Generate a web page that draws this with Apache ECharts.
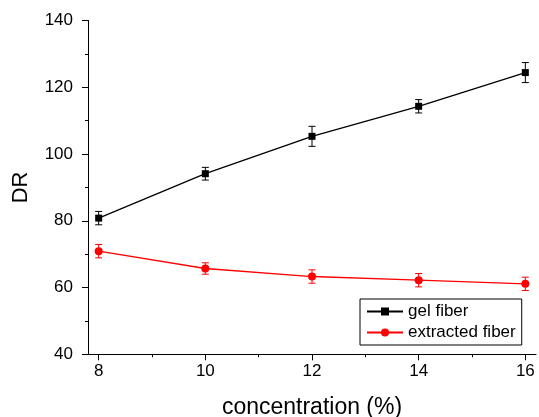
<!DOCTYPE html>
<html>
<head>
<meta charset="utf-8">
<script src="https://cdn.jsdelivr.net/npm/echarts@6/dist/echarts.min.js"></script>
<style>html,body{margin:0;padding:0;background:#fff}#c{width:539px;height:417px}</style>
</head>
<body>
<div id="c"></div>
<script>
const concentration = [8, 10, 12, 14, 16];
const gelFiber = [80.8, 94.1, 105.3, 114.3, 124.4];
const gelFiberErr = [2.0, 1.9, 3.0, 2.0, 3.0];
const extractedFiber = [70.9, 65.7, 63.3, 62.2, 61.1];
const extractedFiberErr = [2.0, 1.7, 2.0, 2.0, 2.0];
const xTicks = [8, 10, 12, 14, 16];
const xMinorTicks = [9, 11, 13, 15];

const FONT = 'Liberation Sans, Arial, Helvetica, sans-serif';

function pts(ys) { return concentration.map((x, i) => [x, ys[i]]); }
function errs(ys, es) { return concentration.map((x, i) => [x, ys[i] - es[i], ys[i] + es[i]]); }

function errRender(color) {
  return function (params, api) {
    const x = api.value(0);
    const lo = api.coord([x, api.value(1)]);
    const hi = api.coord([x, api.value(2)]);
    const w = 3.5;
    const st = { stroke: color, lineWidth: 1 };
    return {
      type: 'group',
      children: [
        { type: 'line', shape: { x1: lo[0], y1: lo[1], x2: hi[0], y2: hi[1] }, style: st },
        { type: 'line', shape: { x1: lo[0] - w, y1: lo[1], x2: lo[0] + w, y2: lo[1] }, style: st },
        { type: 'line', shape: { x1: hi[0] - w, y1: hi[1], x2: hi[0] + w, y2: hi[1] }, style: st }
      ]
    };
  };
}

const chart = echarts.init(document.getElementById('c'));
chart.setOption({
  animation: false,
  backgroundColor: '#fff',
  textStyle: { fontFamily: FONT },
  grid: { left: 88, right: 3, top: 20.5, bottom: 62.7, containLabel: false, outerBoundsMode: 'none' },
  legend: {
    orient: 'vertical',
    left: 360, top: 299,
    borderColor: '#000', borderWidth: 1, borderRadius: 0,
    padding: [4, 6, 4, 6],
    itemGap: 4,
    itemWidth: 36, itemHeight: 10,
    textStyle: { fontSize: 17, color: '#000', fontFamily: FONT },
    data: ['gel fiber', 'extracted fiber']
  },
  xAxis: [{
    type: 'value', min: 7.8, max: 16.2,
    name: 'concentration (%)', nameLocation: 'middle', nameGap: 42,
    nameTextStyle: { fontSize: 23, color: '#000', fontFamily: FONT },
    axisLine: { show: true, onZero: false, lineStyle: { color: '#000', width: 1 } },
    axisTick: { show: true, inside: false, length: 6, customValues: xTicks, lineStyle: { color: '#000' } },
    axisLabel: { show: true, customValues: xTicks, fontSize: 17, color: '#000', margin: 9, fontFamily: FONT },
    splitLine: { show: false }
  }, {
    type: 'value', min: 7.8, max: 16.2, position: 'bottom',
    axisLine: { show: false },
    axisTick: { show: true, length: 3, customValues: xMinorTicks, lineStyle: { color: '#000' } },
    axisLabel: { show: false },
    splitLine: { show: false }
  }],
  yAxis: {
    type: 'value', min: 40, max: 140, interval: 20,
    name: 'DR', nameLocation: 'middle', nameGap: 56,
    nameTextStyle: { fontSize: 22, color: '#000', fontFamily: FONT },
    axisLine: { show: true, lineStyle: { color: '#000', width: 1 } },
    axisTick: { show: true, length: 6, lineStyle: { color: '#000' } },
    minorTick: { show: true, splitNumber: 2, length: 3, lineStyle: { color: '#000' } },
    axisLabel: { fontSize: 17, color: '#000', margin: 15, fontFamily: FONT },
    splitLine: { show: false }
  },
  series: [
    {
      name: 'gel fiber', type: 'line', data: pts(gelFiber),
      symbol: 'rect', symbolSize: 7,
      lineStyle: { color: '#000', width: 1.3 }, itemStyle: { color: '#000' }, z: 3
    },
    {
      name: 'extracted fiber', type: 'line', data: pts(extractedFiber),
      symbol: 'circle', symbolSize: 8,
      lineStyle: { color: '#ff0000', width: 1.3 }, itemStyle: { color: '#ff0000' }, z: 3
    },
    {
      type: 'custom', name: 'gelErr', data: errs(gelFiber, gelFiberErr),
      renderItem: errRender('#000'), encode: { x: 0, y: [1, 2] }, z: 2, silent: true
    },
    {
      type: 'custom', name: 'extErr', data: errs(extractedFiber, extractedFiberErr),
      renderItem: errRender('#ff0000'), encode: { x: 0, y: [1, 2] }, z: 2, silent: true
    }
  ]
});
</script>
</body>
</html>
